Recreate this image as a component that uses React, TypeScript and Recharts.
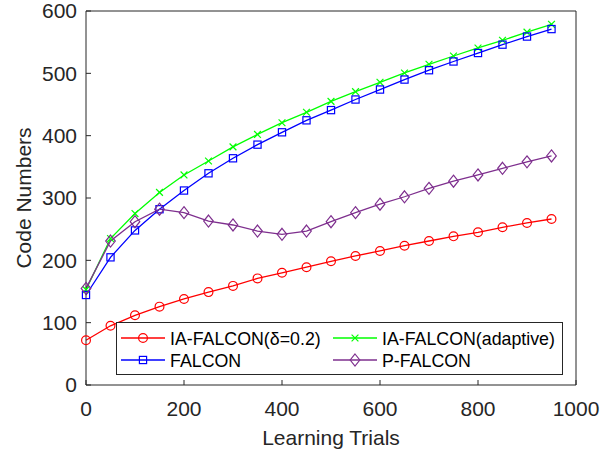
import React from 'react';
import { LineChart, Line, XAxis, YAxis, Legend } from 'recharts';

const trials = [0, 50, 100, 150, 200, 250, 300, 350, 400, 450, 500, 550, 600, 650, 700, 750, 800, 850, 900, 950];
const iaFalconDelta = [71.7, 95, 111.8, 125.7, 138, 149, 159, 171, 180, 189, 198.5, 207, 215, 223.5, 231, 238.5, 245, 253, 260, 266.3];
const iaFalconAdaptive = [153, 235, 275, 309, 337, 359.4, 382, 402, 420.8, 437.5, 455, 470.6, 485.6, 500.6, 514.5, 527.8, 540.7, 553, 566, 578.6];
const falcon = [144.4, 204.8, 248, 282, 312, 339.6, 363.7, 385.6, 405.4, 424.6, 441, 458, 474, 490, 505, 519, 532.6, 546, 559, 571];
const pFalcon = [155, 231, 262, 282, 276.5, 263, 256.7, 247, 241.8, 247, 262, 276.5, 290, 302, 315.5, 327, 337, 347.6, 358, 367.4];

const xTicks = [0, 200, 400, 600, 800, 1000];
const yTicks = [0, 100, 200, 300, 400, 500, 600];

const seriesKeys = ['iaDelta', 'iaAdaptive', 'falcon', 'pFalcon'];
const seriesNames = ['IA-FALCON(δ=0.2)', 'IA-FALCON(adaptive)', 'FALCON', 'P-FALCON'];
const seriesColors = ['#ff0000', '#00ff00', '#0000ff', '#7e2f8e'];
const seriesMarkers = ['circle', 'x', 'square', 'diamond'];

const data = trials.map((t, i) => ({
  trials: t,
  iaDelta: iaFalconDelta[i],
  iaAdaptive: iaFalconAdaptive[i],
  falcon: falcon[i],
  pFalcon: pFalcon[i],
}));

const FONT = '"Liberation Sans", Arial, Helvetica, sans-serif';
const AX = '#262626';

function Marker({ type, cx, cy, color }: { type: string; cx: number; cy: number; color: string }) {
  const sw = 1.2;
  if (type === 'circle') return <circle cx={cx} cy={cy} r={4.4} fill="none" stroke={color} strokeWidth={sw} />;
  if (type === 'square') return <rect x={cx - 3.6} y={cy - 3.6} width={7.2} height={7.2} fill="none" stroke={color} strokeWidth={sw} />;
  if (type === 'x')
    return (
      <g stroke={color} strokeWidth={sw}>
        <line x1={cx - 3.4} y1={cy - 3.4} x2={cx + 3.4} y2={cy + 3.4} />
        <line x1={cx - 3.4} y1={cy + 3.4} x2={cx + 3.4} y2={cy - 3.4} />
      </g>
    );
  return (
    <polygon
      points={`${cx},${cy - 6} ${cx + 4.8},${cy} ${cx},${cy + 6} ${cx - 4.8},${cy}`}
      fill="none"
      stroke={color}
      strokeWidth={sw}
    />
  );
}

const makeDot = (type: string, color: string) => (props: any) => {
  const { cx, cy, index } = props;
  if (cx == null || cy == null) return <g key={`${type}-${index}`} />;
  return (
    <g key={`${type}-${index}`}>
      <Marker type={type} cx={cx} cy={cy} color={color} />
    </g>
  );
};

const LW = 447;
const LH = 53;

const renderLegend = () => {
  const rows = [16, 38];
  const cols = [
    { lx1: 5, lx2: 49, tx: 54 },
    { lx1: 217, lx2: 261, tx: 266 },
  ];
  return (
    <svg width={LW} height={LH} style={{ display: 'block' }}>
      <rect x={0.5} y={0.5} width={LW - 1} height={LH - 1} fill="#ffffff" stroke={AX} strokeWidth={1} />
      {seriesNames.map((name, i) => {
        const r = rows[Math.floor(i / 2)];
        const c = cols[i % 2];
        const mx = (c.lx1 + c.lx2) / 2;
        return (
          <g key={name}>
            <line x1={c.lx1} y1={r} x2={c.lx2} y2={r} stroke={seriesColors[i]} strokeWidth={1.3} />
            <Marker type={seriesMarkers[i]} cx={mx} cy={r} color={seriesColors[i]} />
            <text x={c.tx} y={r + 6.5} fontSize={17.8} fontFamily={FONT} fill="#000">
              {name}
            </text>
          </g>
        );
      })}
    </svg>
  );
};

export default function App() {
  const tickStyle = { fontSize: 21, fill: AX, fontFamily: FONT };
  return (
    <div style={{ position: 'absolute', left: 0, top: 0, background: '#fff' }}>
      <LineChart
        width={613}
        height={453}
        data={data}
        margin={{ top: 10, right: 36, bottom: 28, left: 26 }}
        style={{ fontFamily: FONT }}
      >
        <XAxis
          dataKey="trials"
          type="number"
          domain={[0, 1000]}
          ticks={xTicks}
          interval={0}
          height={40}
          tickSize={-5}
          tickMargin={21}
          tick={tickStyle}
          stroke={AX}
          axisLine={{ stroke: AX, strokeWidth: 1 }}
          tickLine={{ stroke: AX }}
          label={{ value: 'Learning Trials', position: 'bottom', offset: 5, style: { fontSize: 21, fill: AX, fontFamily: FONT } }}
        />
        <XAxis
          xAxisId="top"
          dataKey="trials"
          type="number"
          orientation="top"
          domain={[0, 1000]}
          ticks={xTicks}
          interval={0}
          height={1}
          tickSize={-5}
          tick={false}
          stroke={AX}
          axisLine={{ stroke: AX, strokeWidth: 1 }}
          tickLine={{ stroke: AX }}
        />
        <YAxis
          type="number"
          domain={[0, 600]}
          ticks={yTicks}
          interval={0}
          width={60}
          tickSize={-5}
          tickMargin={14}
          tick={tickStyle}
          stroke={AX}
          axisLine={{ stroke: AX, strokeWidth: 1 }}
          tickLine={{ stroke: AX }}
          label={{
            value: 'Code Numbers',
            angle: -90,
            position: 'insideLeft',
            offset: -2,
            style: { fontSize: 21, fill: AX, fontFamily: FONT, textAnchor: 'middle' },
          }}
        />
        <YAxis
          yAxisId="right"
          type="number"
          orientation="right"
          domain={[0, 600]}
          ticks={yTicks}
          interval={0}
          width={1}
          tickSize={-5}
          tick={false}
          stroke={AX}
          axisLine={{ stroke: AX, strokeWidth: 1 }}
          tickLine={{ stroke: AX }}
        />
        {seriesKeys.map((k, i) => (
          <Line
            key={k}
            dataKey={k}
            name={seriesNames[i]}
            type="linear"
            stroke={seriesColors[i]}
            strokeWidth={1.3}
            dot={makeDot(seriesMarkers[i], seriesColors[i])}
            activeDot={false}
            isAnimationActive={false}
          />
        ))}
        <Legend
          layout="horizontal"
          verticalAlign="middle"
          align="center"
          content={renderLegend}
          wrapperStyle={{ left: 116, top: 322, width: LW, height: LH }}
        />
      </LineChart>
    </div>
  );
}
